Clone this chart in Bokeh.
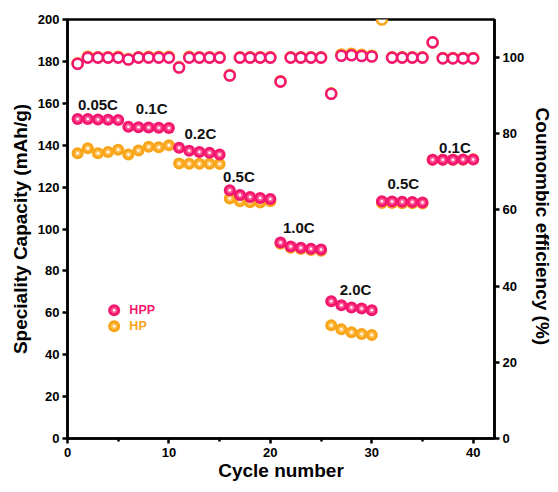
from bokeh.plotting import figure
from bokeh.models import Range1d, LinearAxis, FixedTicker, ColumnDataSource
from bokeh.core.properties import value
from bokeh.embed import file_html
from bokeh.resources import INLINE

cycles = list(range(1, 41))
hpp_capacity = [152.5, 152.5, 152.3, 152.2, 152.0, 148.8, 148.6, 148.4, 148.3, 148.2,
                138.8, 137.3, 136.8, 136.4, 135.6, 118.5, 116.2, 115.3, 114.8, 114.3,
                93.5, 91.6, 91.0, 90.6, 90.2, 65.5, 63.6, 62.5, 62.0, 61.2,
                113.2, 113.1, 113.0, 112.9, 112.6, 133.0, 133.1, 133.1, 133.2, 133.2]
hp_capacity = [136.2, 138.6, 136.2, 136.8, 137.8, 135.6, 137.5, 139.3, 139.0, 140.0,
               131.3, 131.2, 131.1, 131.1, 131.0, 114.6, 113.2, 112.8, 112.7, 113.2,
               93.0, 91.0, 90.4, 90.0, 89.6, 54.0, 52.2, 50.7, 49.9, 49.4,
               112.4, 112.4, 112.3, 112.3, 112.2, 133.0, 133.0, 133.1, 133.1, 133.3]
hpp_ce = [98.4, 100.0, 100.0, 100.0, 100.0, 99.5, 100.0, 100.0, 100.0, 100.0,
          97.4, 100.0, 100.0, 100.0, 100.0, 95.3, 100.0, 100.0, 100.0, 100.0,
          93.7, 100.0, 100.0, 100.0, 100.0, 90.5, 100.5, 100.6, 100.4, 100.3,
          112.2, 100.0, 100.0, 100.0, 100.0, 104.0, 99.8, 99.8, 99.8, 99.8]
hp_ce = [98.5, 100.2, 100.1, 100.1, 100.2, 99.6, 100.1, 100.2, 100.2, 100.2,
         97.5, 100.2, 100.1, 100.1, 100.1, 95.4, 100.1, 100.1, 100.1, 100.1,
         93.8, 100.1, 100.1, 100.1, 100.1, 90.6, 100.8, 101.0, 100.7, 100.5,
         110.0, 100.1, 100.1, 100.1, 100.1, 104.0, 99.9, 99.9, 99.9, 99.9]

rate_labels = ["0.05C", "0.1C", "0.2C", "0.5C", "1.0C", "2.0C", "0.5C", "0.1C"]
rate_x = [3.0, 8.3, 13.1, 16.9, 22.8, 28.4, 33.1, 38.2]
rate_y = [159.5, 157.5, 145.5, 125.0, 100.5, 71.0, 121.5, 139.0]

series_names = ["HPP", "HP"]

PINK = "#F3186F"
PINK_MID = "#FF5C98"
ORANGE = "#F9A51A"
ORANGE_MID = "#FFC25A"
FONT = "Liberation Sans"

# legend placement (layout, in data units of the capacity axis)
LEG_X = 4.6
LEG_Y = [61.2, 53.6]
LEG_TX = 6.1

p = figure(width=556, height=488, output_backend="svg", toolbar_location=None,
           x_range=Range1d(0, 42.1), y_range=Range1d(0, 200),
           min_border_left=67, min_border_right=62, min_border_top=19, min_border_bottom=50)
p.extra_y_ranges = {"ce": Range1d(0, 110)}
p.grid.visible = False
p.background_fill_color = "white"
p.border_fill_color = "white"
p.outline_line_color = "black"
p.outline_line_width = 2.5

src = ColumnDataSource(dict(x=cycles, hpp=hpp_capacity, hp=hp_capacity, hpp_ce=hpp_ce, hp_ce=hp_ce))

# Coulombic efficiency (hollow circles)
p.scatter("x", "hp_ce", source=src, y_range_name="ce", size=10, fill_color="white",
          line_color=ORANGE, line_width=2.6)
p.scatter("x", "hpp_ce", source=src, y_range_name="ce", size=10, fill_color="white",
          line_color=PINK, line_width=2.6)

def sphere(xs, ys, base, mid, source=None):
    kw = dict(source=source) if source is not None else {}
    p.scatter(xs, ys, size=12, fill_color=base, line_color=None, **kw)
    p.scatter(xs, ys, size=6, fill_color=mid, line_color=None, **kw)
    p.scatter(xs, ys, size=2.5, fill_color="white", line_color=None, **kw)

# Capacity (sphere-like markers)
sphere("x", "hp", ORANGE, ORANGE_MID, src)
sphere("x", "hpp", PINK, PINK_MID, src)

p.text(x=rate_x, y=rate_y, text=rate_labels, text_font=value(FONT), text_font_style="bold",
       text_font_size="15px", text_align="center", text_baseline="middle", text_color="#111111")

# manual legend
sphere([LEG_X], [LEG_Y[0]], PINK, PINK_MID)
sphere([LEG_X], [LEG_Y[1]], ORANGE, ORANGE_MID)
p.text(x=[LEG_TX], y=[LEG_Y[0]], text=[series_names[0]], text_font=value(FONT), text_font_style="bold",
       text_font_size="12.5px", text_align="left", text_baseline="middle", text_color=PINK)
p.text(x=[LEG_TX], y=[LEG_Y[1]], text=[series_names[1]], text_font=value(FONT), text_font_style="bold",
       text_font_size="12.5px", text_align="left", text_baseline="middle", text_color=ORANGE)

def style_axis(ax):
    ax.axis_line_width = 2.5
    ax.major_tick_line_width = 2.5
    ax.major_tick_out = 5
    ax.major_tick_in = 0
    ax.minor_tick_line_width = 2.5
    ax.major_label_text_font = FONT
    ax.major_label_text_font_style = "bold"
    ax.major_label_text_font_size = "13px"
    ax.major_label_text_color = "black"
    ax.axis_label_text_font = FONT
    ax.axis_label_text_font_style = "bold"
    ax.axis_label_text_font_size = "19px"
    ax.axis_label_text_color = "black"

xa = p.xaxis[0]
xa.ticker = FixedTicker(ticks=[0, 10, 20, 30, 40], minor_ticks=[5, 15, 25, 35])
xa.axis_label = "Cycle number"
style_axis(xa)
xa.minor_tick_out = 3
xa.minor_tick_in = 0
xa.major_label_standoff = 4
xa.axis_label_standoff = 0

ya = p.yaxis[0]
ya.ticker = FixedTicker(ticks=list(range(0, 201, 20)), minor_ticks=[])
ya.axis_label = "Speciality Capacity (mAh/g)"
style_axis(ya)
ya.major_label_standoff = 3
ya.axis_label_standoff = 4

ra = LinearAxis(y_range_name="ce", axis_label="Coumombic efficiency  (%)")
ra.ticker = FixedTicker(ticks=list(range(0, 101, 20)), minor_ticks=[])
style_axis(ra)
ra.major_label_standoff = 3
ra.axis_label_standoff = 5
p.add_layout(ra, "right")

open("out.html", "w").write(file_html(p, INLINE))
